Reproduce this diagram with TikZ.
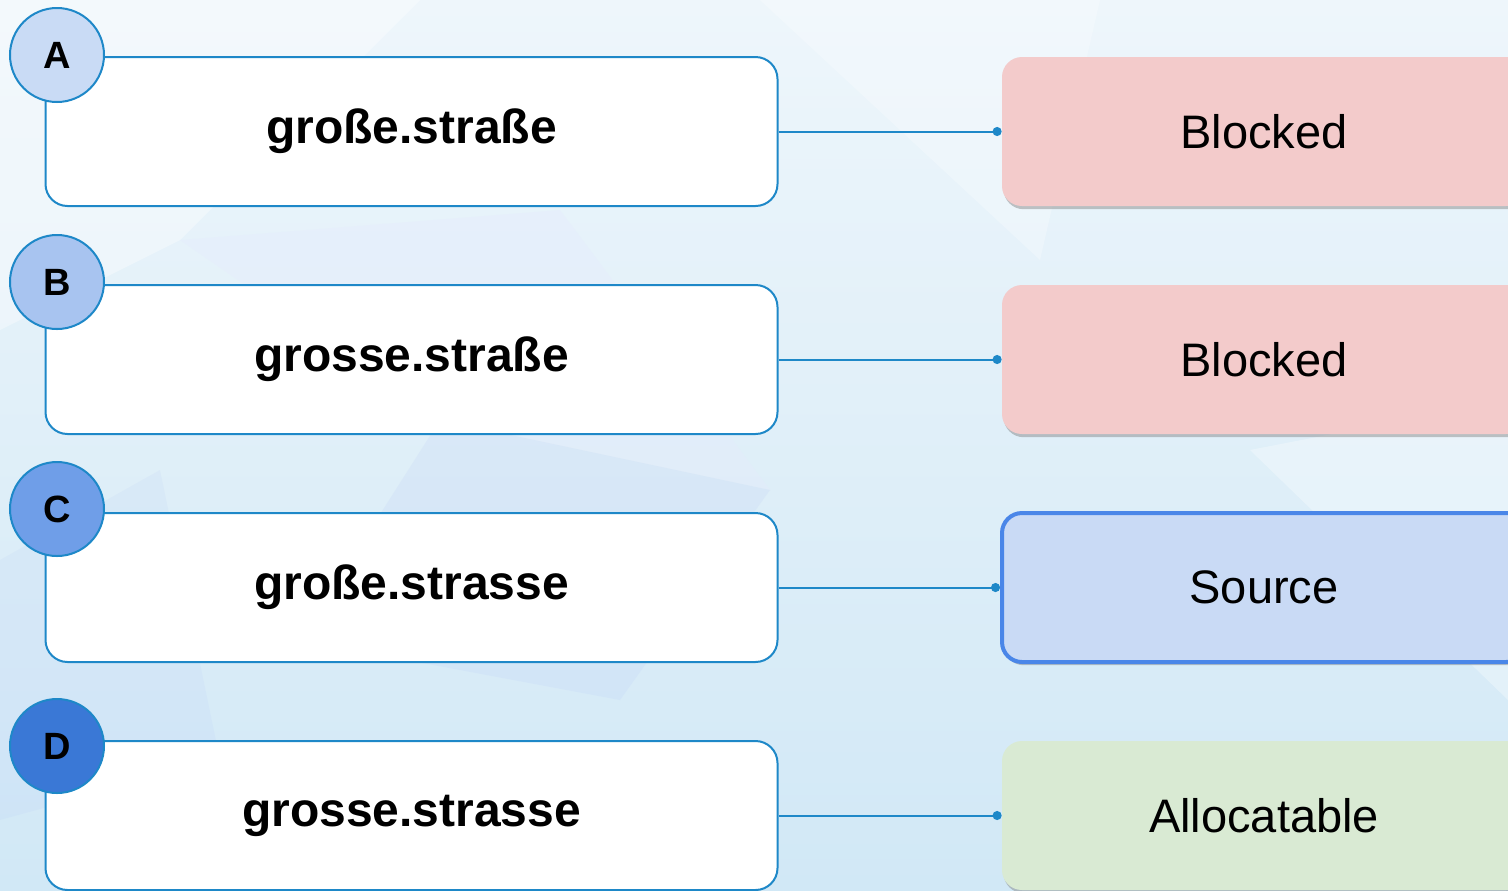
\documentclass[tikz,border=0pt]{standalone}
\usepackage{fontspec}
\setmainfont{Liberation Sans}
\usetikzlibrary{positioning,arrows.meta,shadows}
\definecolor{edgeblue}{HTML}{1E88C8}
\definecolor{tagA}{HTML}{C9DBF5}
\definecolor{tagB}{HTML}{A8C4F0}
\definecolor{tagC}{HTML}{6F9EE8}
\definecolor{tagD}{HTML}{3A78D6}
\definecolor{blockfill}{HTML}{F3CBCB}
\definecolor{sourcefill}{HTML}{C9DAF5}
\definecolor{sourceedge}{HTML}{4A86E8}
\definecolor{allocfill}{HTML}{D9EAD3}
\definecolor{bgblue}{HTML}{D1E8F6}
\definecolor{bglight}{HTML}{EEF6FB}
\tikzset{
  namebox/.style={draw=edgeblue, line width=1pt, fill=white, rounded corners=11pt,
    minimum width=366pt, minimum height=74.5pt, inner sep=0pt,
    font=\bfseries\fontsize{24}{28}\selectfont},
  tag/.style={circle, draw=edgeblue, line width=1pt, minimum size=47pt, inner sep=0pt,
    font=\bfseries\fontsize{19}{22}\selectfont},
  status/.style={rounded corners=10pt, minimum width=262pt, minimum height=74.5pt, inner sep=0pt,
    font=\fontsize{23.5}{28}\selectfont,
    drop shadow={opacity=0.45, shadow xshift=0.8pt, shadow yshift=-1.6pt}},
  link/.style={edgeblue, line width=1pt, -{Circle[length=4.5pt]}}
}
\begin{document}
\begin{tikzpicture}[x=0.5pt, y=-0.5pt]
\useasboundingbox (0,0) rectangle (1508,890);
\clip (0,0) rectangle (1508,890);
\shade[top color=bglight, bottom color=bgblue] (0,0) rectangle (1508,890);
\fill[white, opacity=0.35] (0,0) -- (420,0) -- (180,240) -- (0,330) -- cycle;
\fill[bgblue!80!blue!30, opacity=0.35] (180,240) -- (560,210) -- (770,490) -- (440,420) -- cycle;
\fill[white, opacity=0.25] (760,0) -- (1100,0) -- (1040,260) -- cycle;
\fill[bgblue!85!blue, opacity=0.15] (440,420) -- (770,490) -- (620,700) -- (300,640) -- cycle;
\fill[white, opacity=0.3] (1250,450) -- (1508,400) -- (1508,700) -- cycle;
\fill[bgblue!85!blue, opacity=0.12] (0,560) -- (160,470) -- (220,760) -- (0,820) -- cycle;

\node[namebox] (nameA) at (411.5,131.5) {große.straße};
\node[namebox] (nameB) at (411.5,359.5) {grosse.straße};
\node[namebox] (nameC) at (411.5,587.5) {große.strasse};
\node[namebox] (nameD) at (411.5,815.5) {grosse.strasse};

\node[tag, fill=tagA] (tagA) at (57,55) {A};
\node[tag, fill=tagB] (tagB) at (57,282) {B};
\node[tag, fill=tagC] (tagC) at (57,509) {C};
\node[tag, fill=tagD] (tagD) at (57,746) {D};

\node[status, fill=blockfill] (stateA) at (1264,131.5) {Blocked};
\node[status, fill=blockfill] (stateB) at (1264,359.5) {Blocked};
\node[status, fill=sourcefill, draw=sourceedge, line width=2pt] (stateC) at (1264,587.5) {Source};
\node[status, fill=allocfill] (stateD) at (1264,815.5) {Allocatable};

\foreach \r in {A,B,C,D}
  \draw[link] (name\r.east) -- (state\r.west);
\end{tikzpicture}
\end{document}
